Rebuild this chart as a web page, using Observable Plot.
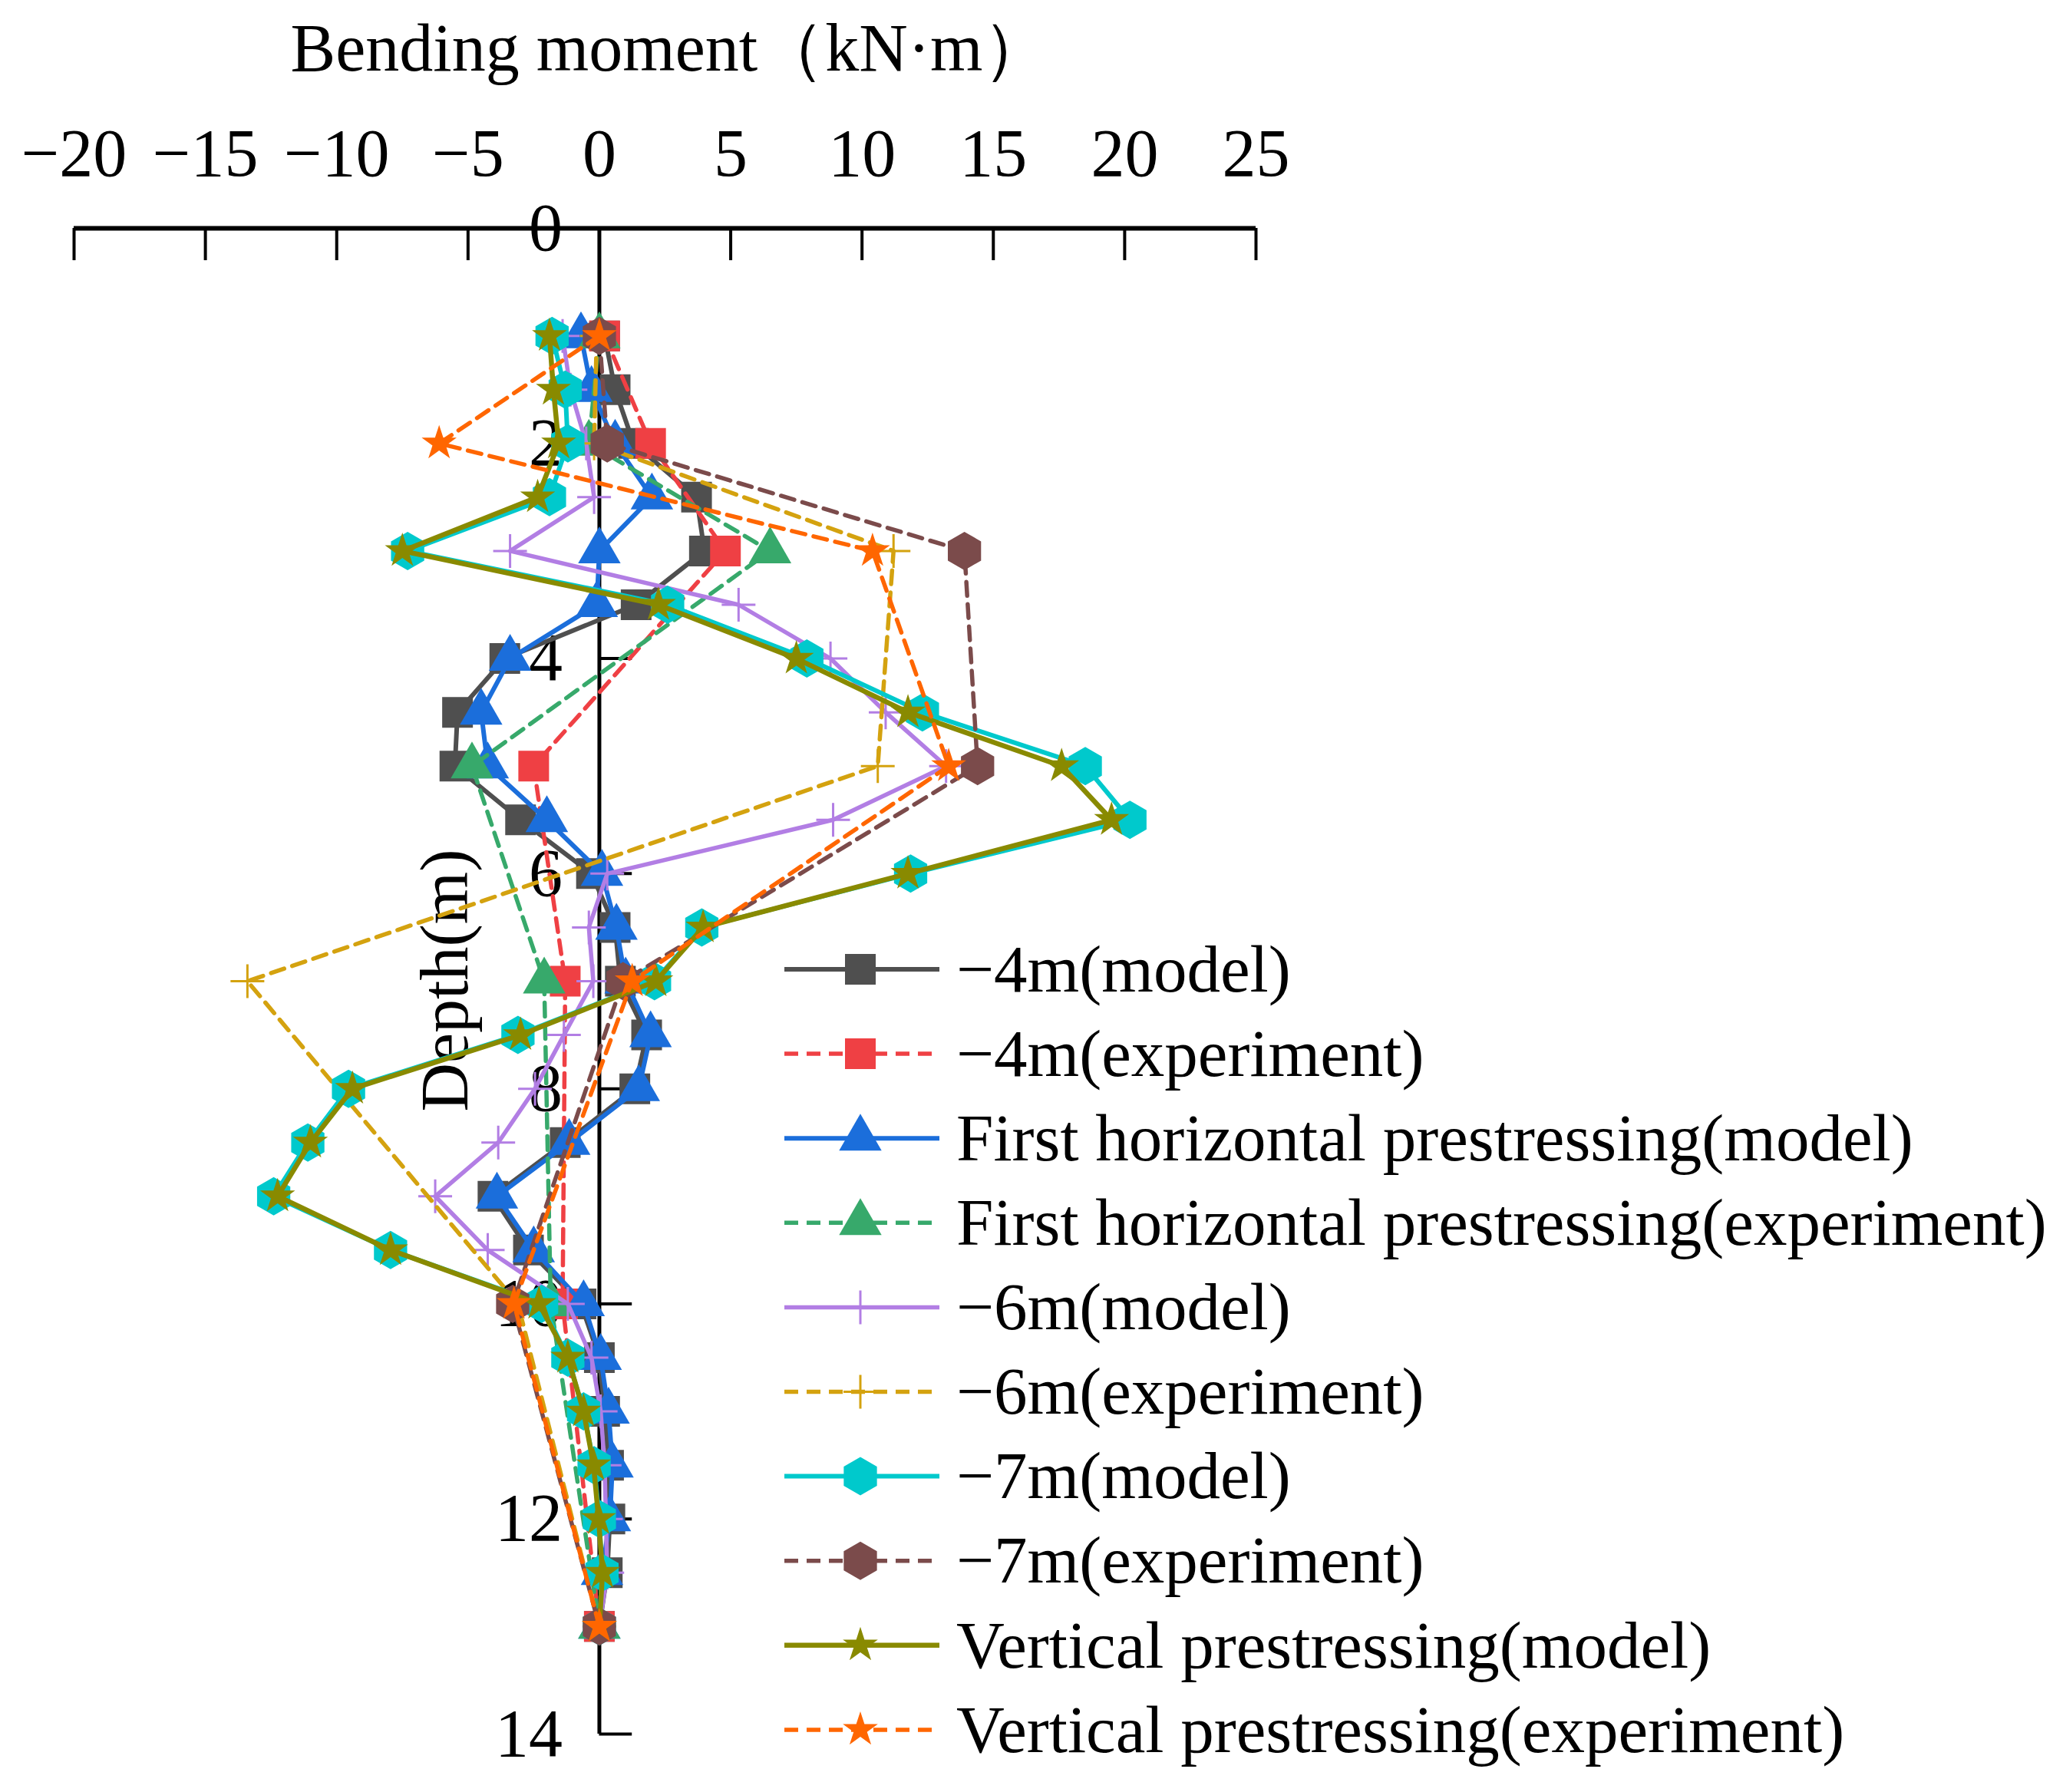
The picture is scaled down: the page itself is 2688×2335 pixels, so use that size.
<!DOCTYPE html>
<html><head><meta charset="utf-8">
<script src="https://cdn.jsdelivr.net/npm/d3@7"></script>
<script src="https://cdn.jsdelivr.net/npm/@observablehq/plot@0.6"></script>
<style>
html,body{margin:0;padding:0;background:#fff;}
#wrap{position:relative;width:2688px;height:2335px;overflow:hidden;}
#wrap svg{position:absolute;left:0;top:0;}
</style></head><body><div id="wrap"></div>
<script>
// ---------- data ----------
const modelDepth = [1, 1.5, 2, 2.5, 3, 3.5, 4, 4.5, 5, 5.5, 6, 6.5, 7, 7.5, 8, 8.5, 9, 9.5, 10, 10.5, 11, 11.5, 12, 12.5, 13];
const expDepth = [1, 2, 3, 5, 7, 10, 13];

const m4Model   = [0.2, 0.6, 1.3, 3.7, 4.0, 1.4, -3.6, -5.4, -5.5, -3.0, -0.3, 0.6, 0.8, 1.8, 1.35, -1.3, -4.05, -2.7, -0.7, 0.0, 0.2, 0.35, 0.4, 0.3, 0.0];
const m4Exp     = [0.2, 1.95, 4.8, -2.5, -1.3, -1.4, 0.0];
const fhModel   = [-0.7, -0.3, 0.6, 2.0, 0.0, -0.1, -3.4, -4.5, -4.25, -2.0, 0.1, 0.65, 1.0, 1.95, 1.5, -1.15, -3.9, -2.5, -0.6, 0.05, 0.35, 0.5, 0.4, 0.1, 0.0];
const fhExp     = [0.0, -0.4, 6.5, -4.85, -2.1, -1.85, 0.0];
const m6Model   = [-1.4, -1.1, -0.5, -0.2, -3.4, 5.3, 8.8, 10.9, 13.2, 8.9, 0.3, -0.4, -0.23, -1.35, -2.45, -3.85, -6.25, -4.25, -1.2, -0.3, 0.05, 0.2, 0.25, 0.3, 0.0];
const m6Exp     = [-0.1, -0.2, 11.2, 10.6, -13.4, -3.1, 0.0];
const m7Model   = [-1.8, -1.3, -1.2, -1.9, -7.3, 2.6, 7.9, 12.3, 18.5, 20.2, 11.85, 3.9, 2.1, -3.1, -9.55, -11.1, -12.4, -7.95, -2.2, -1.2, -0.6, -0.2, 0.0, 0.1, 0.0];
const m7Exp     = [0.0, 0.3, 13.9, 14.4, 0.9, -3.3, 0.0];
const vpModel   = [-1.9, -1.75, -1.55, -2.35, -7.5, 2.25, 7.5, 11.75, 17.6, 19.5, 11.75, 3.95, 2.15, -3.0, -9.4, -11.0, -12.25, -7.95, -2.3, -1.2, -0.6, -0.22, -0.03, 0.12, 0.0];
const vpExp     = [0.0, -6.1, 10.4, 13.3, 1.25, -3.25, 0.0];

const seriesNames = ["\u22124m(model)", "\u22124m(experiment)", "First horizontal prestressing(model)", "First horizontal prestressing(experiment)", "\u22126m(model)", "\u22126m(experiment)", "\u22127m(model)", "\u22127m(experiment)", "Vertical prestressing(model)", "Vertical prestressing(experiment)"];

const xTicks = [-20, -15, -10, -5, 0, 5, 10, 15, 20, 25];
const yTicks = [0, 2, 4, 6, 8, 10, 12, 14];
const titleText = "Bending moment\uFF08kN\u00B7m\uFF09";
const yLabelText = "Depth(m)";

// ---------- symbols ----------
function rad(s){ return Math.sqrt(s / Math.PI); }
const SYM = {
  square: {draw(c, s){ const r = rad(s); c.moveTo(-r,-r); c.lineTo(r,-r); c.lineTo(r,r); c.lineTo(-r,r); c.closePath(); }},
  triangle: {draw(c, s){ const r = rad(s); c.moveTo(0,-r); c.lineTo(r*0.8660254, r*0.5); c.lineTo(-r*0.8660254, r*0.5); c.closePath(); }},
  hexagon: {draw(c, s){ const r = rad(s); for (let i = 0; i < 6; i++){ const a = -Math.PI/2 + i*Math.PI/3; const px = r*Math.cos(a), py = r*Math.sin(a); if (i===0) c.moveTo(px,py); else c.lineTo(px,py);} c.closePath(); }},
  star: {draw(c, s){ const r = rad(s), ri = r*0.381966; for (let i = 0; i < 10; i++){ const a = -Math.PI/2 + i*Math.PI/5; const rr = i%2 ? ri : r; const px = rr*Math.cos(a), py = rr*Math.sin(a); if (i===0) c.moveTo(px,py); else c.lineTo(px,py);} c.closePath(); }},
  plus: {draw(c, s){ const r = rad(s); c.moveTo(-r,0); c.lineTo(r,0); c.moveTo(0,-r); c.lineTo(0,r); }}
};

const DASH = "18,11";
const styles = [
  {vals: m4Model, depth: modelDepth, color: "#4f4f4f", dash: null, sym: "square", r: 20, sw: 6},
  {vals: m4Exp,   depth: expDepth,   color: "#ef4044", dash: DASH, sym: "square", r: 20, sw: 5.5},
  {vals: fhModel, depth: modelDepth, color: "#1b6edb", dash: null, sym: "triangle", r: 32, sw: 6},
  {vals: fhExp,   depth: expDepth,   color: "#37a96b", dash: DASH, sym: "triangle", r: 32, sw: 5.5},
  {vals: m6Model, depth: modelDepth, color: "#b27ee4", dash: null, sym: "plus", r: 22, sw: 5.5},
  {vals: m6Exp,   depth: expDepth,   color: "#d4a20f", dash: DASH, sym: "plus", r: 22, sw: 5.5},
  {vals: m7Model, depth: modelDepth, color: "#00c9cc", dash: null, sym: "hexagon", r: 25, sw: 6},
  {vals: m7Exp,   depth: expDepth,   color: "#7b4b4b", dash: DASH, sym: "hexagon", r: 25, sw: 5.5},
  {vals: vpModel, depth: modelDepth, color: "#898a00", dash: null, sym: "star", r: 24, sw: 6.5},
  {vals: vpExp,   depth: expDepth,   color: "#ff6600", dash: DASH, sym: "star", r: 24, sw: 5.5}
];

const FONT = "'Liberation Serif','Times New Roman',Times,serif";
const FS = 88;
const fmt = d => d < 0 ? "\u2212" + (-d) : String(d);

// ---------- marks ----------
const marks = [
  Plot.ruleY([0], {x1: -20, x2: 25, stroke: "#000", strokeWidth: 6}),
  Plot.ruleX(xTicks, {x: d => d, y1: 0, y2: 0.3, stroke: "#000", strokeWidth: 4}),
  Plot.text(xTicks, {x: d => d, y: 0, dy: -97, text: fmt, fontSize: FS, fontFamily: FONT, fill: "#000"}),
  Plot.ruleX([0], {y1: 0, y2: 14, stroke: "#000", strokeWidth: 5}),
  Plot.ruleY(yTicks.filter(d => d > 0), {y: d => d, x1: 0, x2: 1.25, stroke: "#000", strokeWidth: 4}),
  Plot.text(yTicks, {x: 0, y: d => d, dx: -48, textAnchor: "end", text: fmt, fontSize: FS, fontFamily: FONT, fill: "#000"}),
  Plot.text([titleText], {frameAnchor: "top-left", dx: 777, dy: -234, textAnchor: "middle", lineAnchor: "middle", text: d => d, fontSize: FS, fontFamily: FONT, fill: "#000"}),
  Plot.text([yLabelText], {frameAnchor: "top-left", dx: 484, dy: 980, textAnchor: "middle", lineAnchor: "middle", rotate: -90, text: d => d, fontSize: FS, fontFamily: FONT, fill: "#000"})
];

styles.forEach((st, k) => {
  const rows = st.depth.map((d, i) => ({x: st.vals[i], y: d, s: seriesNames[k]}));
  marks.push(Plot.line(rows, {x: "x", y: "y", stroke: st.color, strokeWidth: st.sw, strokeDasharray: st.dash || undefined, strokeLinejoin: "round"}));
  const isPlus = st.sym === "plus";
  marks.push(Plot.dot(rows, {x: "x", y: "y", symbol: SYM[st.sym], r: st.r,
    fill: isPlus ? "none" : st.color, stroke: isPlus ? st.color : "none", strokeWidth: isPlus ? 3 : 0}));
});

const chart = Plot.plot({
  width: 2688, height: 2335,
  marginLeft: 96, marginRight: 1052, marginTop: 297, marginBottom: 76,
  x: {domain: [-20, 25], axis: null},
  y: {domain: [0, 14], reverse: true, axis: null},
  style: {background: "white", overflow: "visible"},
  marks
});
document.getElementById("wrap").appendChild(chart);

// ---------- legend overlay ----------
const lg = d3.select("#wrap").append("svg").attr("width", 2688).attr("height", 2335);
const row0 = 1263, rowStep = 110.1, lx1 = 1022, lx2 = 1224, lmx = 1121, ltx = 1246;
styles.forEach((st, k) => {
  const y = row0 + k*rowStep;
  lg.append("line").attr("x1", lx1).attr("x2", lx2).attr("y1", y).attr("y2", y)
    .attr("stroke", st.color).attr("stroke-width", st.sw)
    .attr("stroke-dasharray", st.dash);
  const p = d3.path(); SYM[st.sym].draw(p, Math.PI*st.r*st.r);
  const isPlus = st.sym === "plus";
  lg.append("path").attr("d", p.toString()).attr("transform", `translate(${lmx},${y})`)
    .attr("fill", isPlus ? "none" : st.color).attr("stroke", isPlus ? st.color : "none").attr("stroke-width", 3);
  lg.append("text").attr("x", ltx).attr("y", y).attr("dy", "0.33em")
    .attr("font-family", FONT).attr("font-size", 87).attr("fill", "#000").text(seriesNames[k]);
});
</script></body></html>
